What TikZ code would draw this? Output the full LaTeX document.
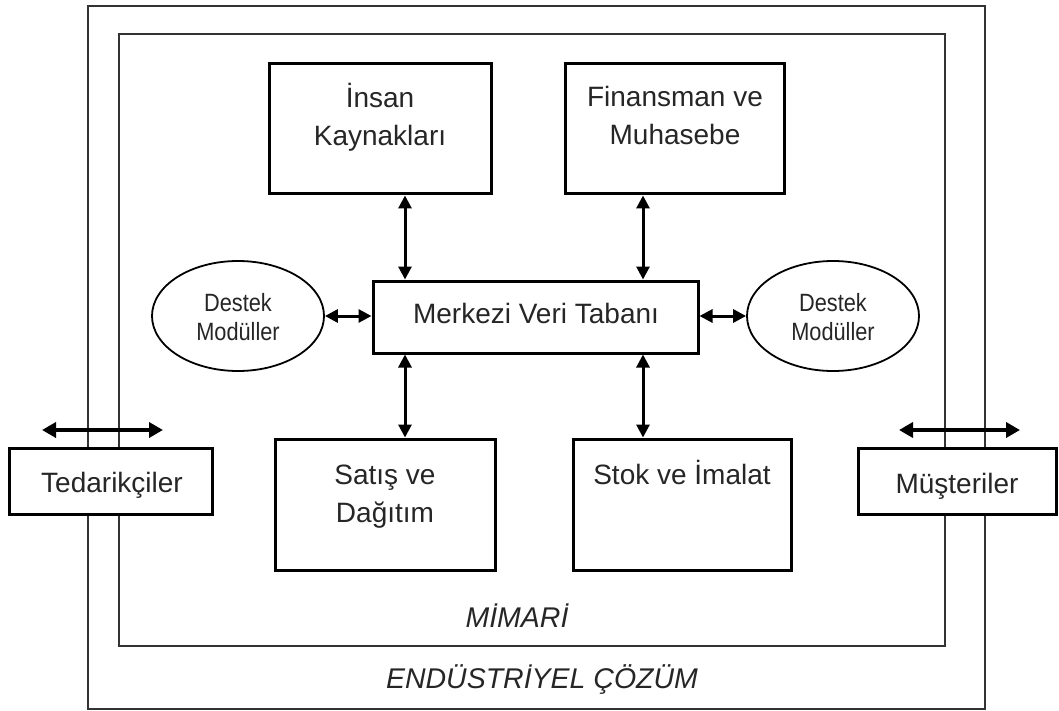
\documentclass[tikz,border=0pt]{standalone}
\usepackage{fontspec}
\usepackage{graphicx}
\setmainfont{Liberation Sans}
\usetikzlibrary{arrows.meta,shapes.geometric}
% two centred lines; the baseline of the result is that of the first line
\newcommand{\twoline}[2]{\begin{tabular}[t]{@{}c@{}}#1\\#2\end{tabular}}

\begin{document}
\begin{tikzpicture}[x=1pt,y=-1pt,
  frame/.style={draw=black!80, line width=1.6pt},
  box/.style={draw=black, line width=3pt, fill=white, rectangle, inner sep=0pt},
  oval/.style={draw=black, line width=1.8pt, fill=white, ellipse, inner sep=0pt},
  txt/.style={font=\fontsize{28}{38}\selectfont, text=black!85, inner sep=0pt, anchor=base},
  small/.style={font=\fontsize{25}{29}\selectfont, text=black!85, inner sep=0pt, anchor=base},
  itl/.style={font=\fontsize{28.5}{34}\selectfont\itshape, text=black!85, inner sep=0pt, anchor=base},
  dar/.style={{Triangle[length=13pt,width=13pt]}-{Triangle[length=13pt,width=13pt]}, line width=3pt},
  wide/.style={{Triangle[length=14pt,width=15pt]}-{Triangle[length=14pt,width=15pt]}, line width=4pt},
]
\useasboundingbox (0,0) rectangle (1059,711);

% solution frame and architecture frame
\draw[frame] (88,6) rectangle (985,709);
\draw[frame] (119,34) rectangle (945,646);

% modules
\node[box, minimum width=222pt, minimum height=130pt] (ik)  at (380,129) {};
\node[box, minimum width=219pt, minimum height=130pt] (fm)  at (675,129) {};
\node[box, minimum width=325pt, minimum height=72pt]  (mvt) at (535.5,317) {};
\node[box, minimum width=220pt, minimum height=131pt] (sd)  at (385,504.5) {};
\node[box, minimum width=218pt, minimum height=131pt] (si)  at (682,504.5) {};
\node[box, minimum width=203pt, minimum height=66pt]  (ted) at (110.5,481) {};
\node[box, minimum width=198pt, minimum height=66pt]  (mus) at (957,481) {};
\node[oval, minimum width=172pt, minimum height=110pt] (dl) at (238,316) {};
\node[oval, minimum width=172pt, minimum height=110pt] (dr) at (833,316) {};

% labels
\node[txt] (ikt)  at (380,108) {\twoline{İnsan}{Kaynakları}};
\node[txt] (fmt)  at (675,107) {\twoline{Finansman ve}{Muhasebe}};
\node[txt] (mvtt) at (536,323) {Merkezi Veri Tabanı};
\node[txt] (sdt)  at (385,484) {\twoline{Satış ve}{Dağıtım}};
\node[txt] (sit)  at (682,484) {Stok ve İmalat};
\node[txt] (tedt) at (112,492) {Tedarikçiler};
\node[txt] (must) at (957,493) {Müşteriler};
\node[small] (dlt) at (238,311) {\scalebox{0.87}[1]{\twoline{Destek}{Modüller}}};
\node[small] (drt) at (833,311) {\scalebox{0.87}[1]{\twoline{Destek}{Modüller}}};
\node[itl] (mim) at (517,627) {MİMARİ};
\node[itl] (end) at (542,688) {ENDÜSTRİYEL ÇÖZÜM};

% columns of the vertical links
\coordinate (colL) at (405,0);
\coordinate (colR) at (643,0);
\draw[dar] (colL |- ik.south) -- (colL |- mvt.north);
\draw[dar] (colR |- fm.south) -- (colR |- mvt.north);
\draw[dar] (colL |- mvt.south) -- (colL |- sd.north);
\draw[dar] (colR |- mvt.south) -- (colR |- si.north);
\draw[dar] (dl.east) -- (dl.east -| mvt.west);
\draw[dar] (dr.west -| mvt.east) -- (dr.west);

% exchange with suppliers and customers
\coordinate (tedA) at (42,430);
\coordinate (tedB) at (163,430);
\coordinate (musA) at (899,430);
\coordinate (musB) at (1020,430);
\draw[wide] (tedA) -- (tedB);
\draw[wide] (musA) -- (musB);
\end{tikzpicture}
\end{document}
